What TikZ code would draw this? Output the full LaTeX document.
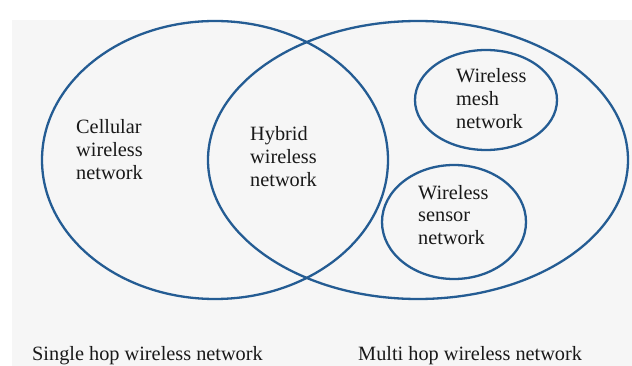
\documentclass[tikz,border=0pt]{standalone}
\usepackage{fontspec}
\setmainfont{Liberation Serif}
\usetikzlibrary{shapes.geometric}
\definecolor{ringblue}{HTML}{245C93}
\definecolor{paper}{HTML}{F6F6F6}
\begin{document}
\begin{tikzpicture}[x=1pt,y=-1pt,
  ring/.style={ellipse,draw=ringblue,line width=2.3pt,inner sep=0pt},
  lbl/.style={anchor=base west,align=left,inner sep=0pt,
    font=\fontsize{20.3}{23}\selectfont,text=black!90}]
\useasboundingbox (0,0) rectangle (632,366);
\fill[white] (0,0) rectangle (632,366);
\fill[paper] (12,20) rectangle (632,366);
\node[ring,minimum width=346pt,minimum height=278pt] (single) at (215,160) {};
\node[ring,minimum width=420pt,minimum height=278pt] (multi) at (418,160) {};
\node[ring,minimum width=142pt,minimum height=100pt] (mesh) at (486,100) {};
\node[ring,minimum width=144pt,minimum height=114pt] (sensor) at (454,222) {};
\node[lbl] (cell) at (76,180) {Cellular\\wireless\\network};
\node[lbl] (hyb) at (250,187) {Hybrid\\wireless\\network};
\node[lbl] (meshtxt) at (456,129) {Wireless\\mesh\\network};
\node[lbl] (sensortxt) at (418,245) {Wireless\\sensor\\network};
\node[lbl] (singletxt) at (32,360) {Single hop wireless network};
\node[lbl] (multitxt) at (358,360) {Multi hop wireless network};
\end{tikzpicture}
\end{document}
